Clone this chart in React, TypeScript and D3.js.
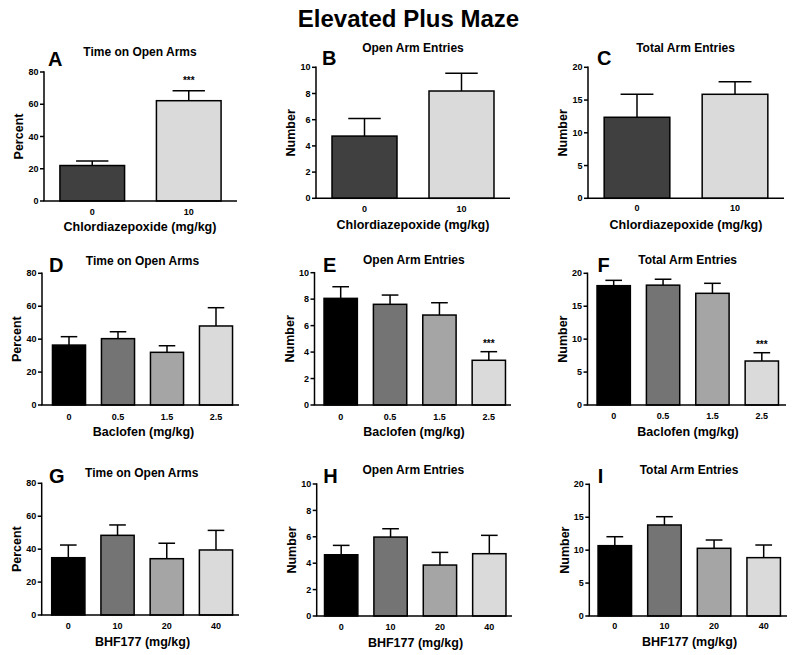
import React from "react";
import * as d3 from "d3";

// ---------- data ----------
const chlordiazepoxideDoses = ["0", "10"];
const baclofenDoses = ["0", "0.5", "1.5", "2.5"];
const bhf177Doses = ["0", "10", "20", "40"];

const percentTicks = [0, 20, 40, 60, 80];
const entryTicks = [0, 2, 4, 6, 8, 10];
const totalTicks = [0, 5, 10, 15, 20];

const timeOpenChlor = [22, 62.2];
const timeOpenChlorSem = [2.8, 6.2];
const openEntriesChlor = [4.75, 8.19];
const openEntriesChlorSem = [1.35, 1.35];
const totalEntriesChlor = [12.37, 15.88];
const totalEntriesChlorSem = [3.5, 1.9];

const timeOpenBaclofen = [36.4, 40.3, 32, 48];
const timeOpenBaclofenSem = [5.1, 4.2, 4, 11.1];
const openEntriesBaclofen = [8.06, 7.61, 6.8, 3.38];
const openEntriesBaclofenSem = [0.88, 0.7, 0.93, 0.65];
const totalEntriesBaclofen = [18.12, 18.2, 16.96, 6.68];
const totalEntriesBaclofenSem = [0.81, 0.9, 1.52, 1.26];

const timeOpenBhf = [34.8, 48.4, 34.2, 39.5];
const timeOpenBhfSem = [7.7, 6.3, 9.4, 11.9];
const openEntriesBhf = [4.64, 5.98, 3.86, 4.72];
const openEntriesBhfSem = [0.71, 0.63, 0.96, 1.39];
const totalEntriesBhf = [10.68, 13.82, 10.28, 8.86];
const totalEntriesBhfSem = [1.36, 1.26, 1.26, 1.92];

const sigChlorTime = ["", "***"];
const sigBaclofenEntries = ["", "", "", "***"];
const sigBaclofenTotal = ["", "", "", "***"];

const twoColors = ["#404040", "#dadada"];
const fourColors = ["#000000", "#747474", "#a5a5a5", "#dadada"];

// ---------- layout ----------
type Layout = {
  letter: string;
  ax: number; // y-axis x
  axEnd: number; // x-axis end
  bandStart: number;
  bandEnd: number;
  yTop: number;
  yBot: number;
  titleX: number;
  titleY: number;
  letterX: number;
  letterY: number;
  tickLabelY: number;
  xLabelX: number;
  xLabelY: number;
  starGap: number;
};

const L = (o: Layout) => o;

const layouts: Layout[] = [
  L({ letter: "A", ax: 44, axEnd: 237, bandStart: 44, bandEnd: 237, yTop: 72, yBot: 201, titleX: 140, titleY: 56, letterX: 48, letterY: 66, tickLabelY: 214.5, xLabelX: 140, xLabelY: 231, starGap: 12 }),
  L({ letter: "B", ax: 316, axEnd: 510, bandStart: 316, bandEnd: 510, yTop: 67.3, yBot: 198.3, titleX: 413, titleY: 52, letterX: 322, letterY: 65, tickLabelY: 211.5, xLabelX: 413, xLabelY: 229, starGap: 10 }),
  L({ letter: "C", ax: 588, axEnd: 784, bandStart: 588, bandEnd: 784, yTop: 67.3, yBot: 198.3, titleX: 685.5, titleY: 52, letterX: 597, letterY: 65, tickLabelY: 210.5, xLabelX: 686, xLabelY: 229, starGap: 10 }),
  L({ letter: "D", ax: 42, axEnd: 239, bandStart: 44.5, bandEnd: 240.5, yTop: 273.3, yBot: 405, titleX: 142.5, titleY: 265, letterX: 49, letterY: 271.7, tickLabelY: 420, xLabelX: 143.5, xLabelY: 435.5, starGap: 10 }),
  L({ letter: "E", ax: 314.5, axEnd: 511, bandStart: 316, bandEnd: 513.5, yTop: 272.7, yBot: 405, titleX: 413.8, titleY: 263.5, letterX: 323, letterY: 271.7, tickLabelY: 420, xLabelX: 414, xLabelY: 435.5, starGap: 9.5 }),
  L({ letter: "F", ax: 587.5, axEnd: 786, bandStart: 589, bandEnd: 786.5, yTop: 273.3, yBot: 405, titleX: 687.7, titleY: 263.5, letterX: 597.5, letterY: 271.7, tickLabelY: 418.5, xLabelX: 688, xLabelY: 435.5, starGap: 10 }),
  L({ letter: "G", ax: 41.7, axEnd: 239, bandStart: 43.7, bandEnd: 240.6, yTop: 483.3, yBot: 615, titleX: 141.8, titleY: 476.7, letterX: 49, letterY: 483.3, tickLabelY: 629, xLabelX: 142.5, xLabelY: 646, starGap: 10 }),
  L({ letter: "H", ax: 316.7, axEnd: 512, bandStart: 316.5, bandEnd: 514, yTop: 484, yBot: 616, titleX: 413.3, titleY: 474.3, letterX: 323.3, letterY: 483.3, tickLabelY: 630, xLabelX: 415.5, xLabelY: 647, starGap: 10 }),
  L({ letter: "I", ax: 589.3, axEnd: 787, bandStart: 590, bandEnd: 788.5, yTop: 484.3, yBot: 616, titleX: 689, titleY: 474.3, letterX: 597.7, letterY: 483.3, tickLabelY: 628.5, xLabelX: 689.5, xLabelY: 646, starGap: 10 }),
];

type PanelData = {
  title: string;
  yLabel: string;
  xLabel: string;
  cats: string[];
  values: number[];
  sem: number[];
  ticks: number[];
  colors: string[];
  sig?: string[];
};

const panelData: PanelData[] = [
  { title: "Time on Open Arms", yLabel: "Percent", xLabel: "Chlordiazepoxide (mg/kg)", cats: chlordiazepoxideDoses, values: timeOpenChlor, sem: timeOpenChlorSem, ticks: percentTicks, colors: twoColors, sig: sigChlorTime },
  { title: "Open Arm Entries", yLabel: "Number", xLabel: "Chlordiazepoxide (mg/kg)", cats: chlordiazepoxideDoses, values: openEntriesChlor, sem: openEntriesChlorSem, ticks: entryTicks, colors: twoColors },
  { title: "Total Arm Entries", yLabel: "Number", xLabel: "Chlordiazepoxide (mg/kg)", cats: chlordiazepoxideDoses, values: totalEntriesChlor, sem: totalEntriesChlorSem, ticks: totalTicks, colors: twoColors },
  { title: "Time on Open Arms", yLabel: "Percent", xLabel: "Baclofen (mg/kg)", cats: baclofenDoses, values: timeOpenBaclofen, sem: timeOpenBaclofenSem, ticks: percentTicks, colors: fourColors },
  { title: "Open Arm Entries", yLabel: "Number", xLabel: "Baclofen (mg/kg)", cats: baclofenDoses, values: openEntriesBaclofen, sem: openEntriesBaclofenSem, ticks: entryTicks, colors: fourColors, sig: sigBaclofenEntries },
  { title: "Total Arm Entries", yLabel: "Number", xLabel: "Baclofen (mg/kg)", cats: baclofenDoses, values: totalEntriesBaclofen, sem: totalEntriesBaclofenSem, ticks: totalTicks, colors: fourColors, sig: sigBaclofenTotal },
  { title: "Time on Open Arms", yLabel: "Percent", xLabel: "BHF177 (mg/kg)", cats: bhf177Doses, values: timeOpenBhf, sem: timeOpenBhfSem, ticks: percentTicks, colors: fourColors },
  { title: "Open Arm Entries", yLabel: "Number", xLabel: "BHF177 (mg/kg)", cats: bhf177Doses, values: openEntriesBhf, sem: openEntriesBhfSem, ticks: entryTicks, colors: fourColors },
  { title: "Total Arm Entries", yLabel: "Number", xLabel: "BHF177 (mg/kg)", cats: bhf177Doses, values: totalEntriesBhf, sem: totalEntriesBhfSem, ticks: totalTicks, colors: fourColors },
];

function Panel({ d, l }: { d: PanelData; l: Layout }) {
  const yMax = d.ticks[d.ticks.length - 1];
  const y = d3.scaleLinear().domain([0, yMax]).range([l.yBot, l.yTop]);
  const pi = d.cats.length === 2 ? 0.33 : 0.325;
  const x = d3
    .scaleBand<string>()
    .domain(d.cats)
    .range([l.bandStart, l.bandEnd])
    .paddingInner(pi)
    .paddingOuter(pi / 2);
  const bw = x.bandwidth();
  const sw = 1.5;
  return (
    <g>
      <text x={l.letterX} y={l.letterY} fontSize={20}>{l.letter}</text>
      <text x={l.titleX} y={l.titleY} fontSize={12} textAnchor="middle">{d.title}</text>
      {/* bars */}
      {d.cats.map((c, i) => {
        const x0 = x(c) as number;
        const yt = y(d.values[i]);
        const ye = y(d.values[i] + d.sem[i]);
        const cx = x0 + bw / 2;
        return (
          <g key={c}>
            <line x1={cx} x2={cx} y1={yt} y2={ye} stroke="#000" strokeWidth={sw} />
            <line x1={cx - bw / 4} x2={cx + bw / 4} y1={ye} y2={ye} stroke="#000" strokeWidth={sw} />
            <rect x={x0} y={yt} width={bw} height={l.yBot - yt} fill={d.colors[i]} stroke="#000" strokeWidth={sw} />
            {d.sig && d.sig[i] ? (
              <text x={cx} y={ye - l.starGap + 5} fontSize={10} textAnchor="middle">{d.sig[i]}</text>
            ) : null}
            <text x={cx} y={l.tickLabelY} fontSize={9} textAnchor="middle">{c}</text>
          </g>
        );
      })}
      {/* y axis */}
      <line x1={l.ax} x2={l.ax} y1={l.yBot} y2={y(yMax) - 0.75} stroke="#000" strokeWidth={sw} />
      {d.ticks.map((t) => (
        <g key={t}>
          <line x1={l.ax - 4} x2={l.ax} y1={y(t)} y2={y(t)} stroke="#000" strokeWidth={sw} />
          <text x={l.ax - 5.5} y={y(t)} dy="0.35em" fontSize={9} textAnchor="end">{t}</text>
        </g>
      ))}
      {/* x axis */}
      <line x1={l.ax - 0.75} x2={l.axEnd} y1={l.yBot} y2={l.yBot} stroke="#000" strokeWidth={sw} />
      <text
        transform={`translate(${l.ax - 25},${(l.yTop + l.yBot) / 2}) rotate(-90)`}
        dy="0.35em"
        fontSize={12.5}
        textAnchor="middle"
      >
        {d.yLabel}
      </text>
      <text x={l.xLabelX} y={l.xLabelY} fontSize={12.5} textAnchor="middle">{d.xLabel}</text>
    </g>
  );
}

export default function App() {
  return (
    <svg
      width={800}
      height={655}
      style={{ position: "absolute", left: 0, top: 0, background: "#fff" }}
      fontFamily="'Liberation Sans', Arial, Helvetica, sans-serif"
      fontWeight="bold"
    >
      <rect x={0} y={0} width={800} height={655} fill="#fff" />
      <text x={408.5} y={27} fontSize={24} textAnchor="middle">Elevated Plus Maze</text>
      {panelData.map((d, i) => (
        <Panel key={i} d={d} l={layouts[i]} />
      ))}
    </svg>
  );
}
